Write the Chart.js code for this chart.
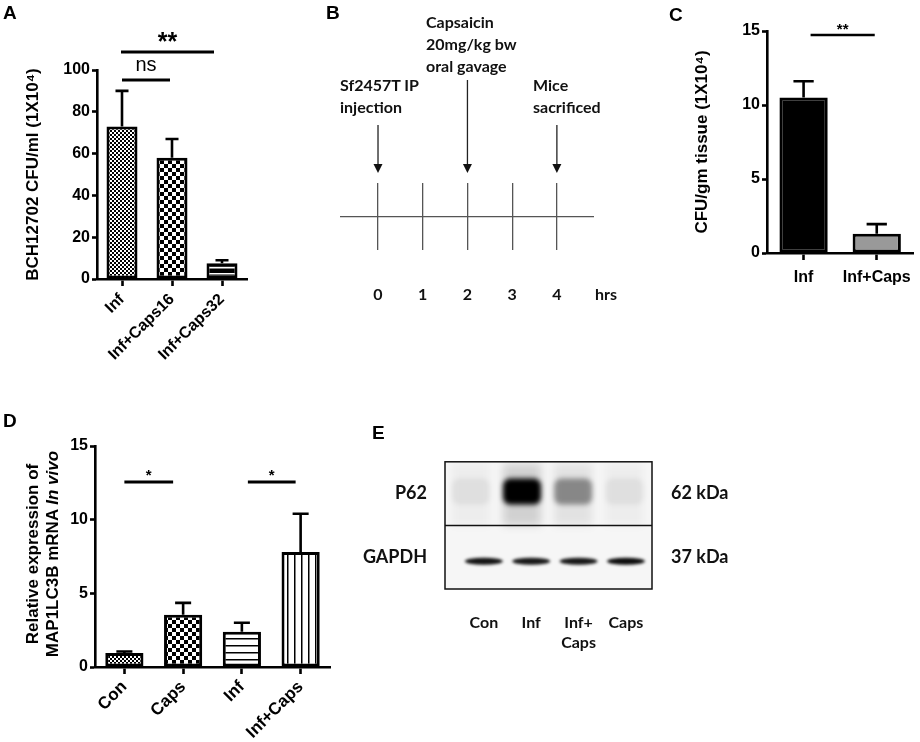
<!DOCTYPE html>
<html>
<head>
<meta charset="utf-8">
<script src="https://cdn.jsdelivr.net/npm/chart.js@4.4.0/dist/chart.umd.min.js"></script>
<style>
  body { margin: 0; background: #fff; }
  #page { position: relative; width: 920px; height: 742px; overflow: hidden; background: #fff; }
  canvas { position: absolute; }
  .letter { position: absolute; font: bold 19px "Liberation Sans", Arial, sans-serif; line-height: 19px; color: #000; }
  .note { position: absolute; font: bold 16px Lato, sans-serif; line-height: 22px; white-space: nowrap; color: #111; }
  #titleD {
    position: absolute; left: -87px; top: 534px; width: 260px; height: 40px;
    transform: rotate(-90deg); text-align: center; white-space: nowrap;
    font: bold 17px "Liberation Sans", Arial, sans-serif; line-height: 20px; color: #000;
  }
</style>
</head>
<body>
<div id="page">
  <canvas id="chartA" width="260" height="385" style="left:0;top:0"></canvas>
  <canvas id="chartB" width="300" height="330" style="left:320px;top:0"></canvas>
  <canvas id="chartC" width="280" height="300" style="left:640px;top:0"></canvas>
  <canvas id="chartD" width="340" height="342" style="left:0;top:400px"></canvas>
  <canvas id="chartE" width="400" height="230" style="left:360px;top:440px"></canvas>

  <div class="letter" style="left:3px;top:3px">A</div>
  <div class="letter" style="left:326px;top:3px">B</div>
  <div class="letter" style="left:669px;top:5px">C</div>
  <div class="letter" style="left:3px;top:411px">D</div>
  <div class="letter" style="left:372px;top:423px">E</div>

  <div class="note" style="left:340px;top:74px">Sf2457T IP<br>injection</div>
  <div class="note" style="left:426px;top:11px">Capsaicin<br>20mg/kg bw<br>oral gavage</div>
  <div class="note" style="left:533px;top:74px">Mice<br>sacrificed</div>

  <div id="titleD">Relative expression of<br>MAP1LC3B mRNA <i>In vivo</i></div>
</div>

<script>
/***** Data *****/
// Panel A - CFU counts in vitro
const labelsA = ["Inf", "Inf+Caps16", "Inf+Caps32"];
const meanA = [73, 58, 7.5];
const errA = [90, 67, 9];
const sigA = [[0, 1, "ns"], [0, 2, "**"]];

// Panel B - experiment timeline (hours)
const hours = [0, 1, 2, 3, 4];
const eventHours = [0, 2, 4];

// Panel C - CFU per gram of tissue
const labelsC = ["Inf", "Inf+Caps"];
const meanC = [10.5, 1.3];
const errC = [11.6, 1.95];
const sigC = [[0, 1, "**"]];

// Panel D - MAP1LC3B relative expression
const labelsD = ["Con", "Caps", "Inf", "Inf+Caps"];
const meanD = [0.95, 3.55, 2.4, 7.8];
const errD = [1.05, 4.35, 3.0, 10.4];
const sigD = [[0, 1, "*"], [2, 3, "*"]];

// Panel E - western blot lanes and band intensities (0..1)
const lanes = ["Con", "Inf", ["Inf+", "Caps"], "Caps"];
const blotRows = ["P62", "GAPDH"];
const blotSizes = ["62 kDa", "37 kDa"];
const p62Band = [0.06, 1, 0.4, 0.06];
const gapdhBand = [0.92, 0.9, 0.9, 0.95];

Chart.defaults.color = "#000";
Chart.defaults.font.family = '"Liberation Sans", Arial, sans-serif';

/***** Helpers *****/
// Build a repeating fill pattern for the GraphPad style bars
const makePattern = (kind) => {
  const c = document.createElement("canvas");
  const g = c.getContext("2d");
  if (kind === "fine") {
    c.width = c.height = 4;
    g.fillStyle = "#fff"; g.fillRect(0, 0, 4, 4);
    g.fillStyle = "#000"; g.fillRect(0, 0, 2, 2); g.fillRect(2, 2, 2, 2);
  } else if (kind === "coarse") {
    c.width = c.height = 8;
    g.fillStyle = "#fff"; g.fillRect(0, 0, 8, 8);
    g.fillStyle = "#000"; g.fillRect(0, 0, 4, 4); g.fillRect(4, 4, 4, 4);
  } else if (kind === "hlines") {
    c.width = 4; c.height = 7;
    g.fillStyle = "#fff"; g.fillRect(0, 0, 4, 7);
    g.fillStyle = "#000"; g.fillRect(0, 0, 4, 1.5);
  } else if (kind === "vlines") {
    c.width = 7; c.height = 4;
    g.fillStyle = "#fff"; g.fillRect(0, 0, 7, 4);
    g.fillStyle = "#000"; g.fillRect(0, 0, 1.5, 4);
  } else if (kind === "dark") {
    c.width = 4; c.height = 6;
    g.fillStyle = "#000"; g.fillRect(0, 0, 4, 6);
    g.fillStyle = "#fff"; g.fillRect(0, 3, 4, 1.5);
  }
  return g.createPattern(c, "repeat");
};

// Draws the upper error bar of every bar
const errorBarPlugin = {
  id: "errorBars",
  afterDatasetsDraw: (chart) => {
    const tops = chart.data.datasets[0].errTop;
    if (!tops) return;
    const { ctx } = chart;
    const ys = chart.scales.y;
    chart.getDatasetMeta(0).data.forEach((bar, i) => {
      const yTop = ys.getPixelForValue(tops[i]);
      const cap = bar.width * 0.42;
      ctx.save();
      ctx.strokeStyle = "#000";
      ctx.lineWidth = 2.6;
      ctx.beginPath();
      ctx.moveTo(bar.x, bar.y);
      ctx.lineTo(bar.x, yTop);
      ctx.moveTo(bar.x - cap / 2, yTop);
      ctx.lineTo(bar.x + cap / 2, yTop);
      ctx.stroke();
      ctx.restore();
    });
  },
};

// Draws the significance lines with their stars
const sigPlugin = {
  id: "sig",
  afterDraw: (chart, args, opts) => {
    if (!opts.pairs) return;
    const { ctx } = chart;
    const bars = chart.getDatasetMeta(0).data;
    opts.pairs.forEach(([a, b, text], k) => {
      const y = opts.levels[k];
      const x1 = bars[a].x + opts.insets[k][0];
      const x2 = bars[b].x - opts.insets[k][1];
      ctx.save();
      ctx.strokeStyle = "#000";
      ctx.lineWidth = opts.lineWidth;
      ctx.beginPath();
      ctx.moveTo(x1, y);
      ctx.lineTo(x2, y);
      ctx.stroke();
      ctx.fillStyle = "#000";
      ctx.font = opts.fonts[k];
      ctx.textAlign = "center";
      ctx.textBaseline = "alphabetic";
      ctx.fillText(text, (x1 + x2) / 2, y - opts.gaps[k]);
      ctx.restore();
    });
  },
};

// Common options for the three bar charts
const barOptions = (cfg) => ({
  responsive: false,
  animation: false,
  layout: { padding: cfg.padding },
  plugins: { legend: { display: false }, tooltip: { enabled: false }, sig: cfg.sig },
  scales: {
    x: {
      offset: true,
      grid: { offset: false, drawOnChartArea: false, tickLength: 7, tickColor: "#000", tickWidth: 2.6 },
      border: { display: true, color: "#000", width: 2.6 },
      ticks: {
        color: "#000",
        font: { size: cfg.xFont, weight: "bold" },
        minRotation: cfg.rot,
        maxRotation: cfg.rot,
        autoSkip: false,
        padding: cfg.xPad,
      },
      afterFit: (s) => { s.height = cfg.xHeight; },
    },
    y: {
      min: 0,
      max: cfg.max,
      ticks: { stepSize: cfg.step, color: "#000", font: { size: 16, weight: "bold" }, padding: 2 },
      grid: { drawOnChartArea: false, tickLength: 5, tickColor: "#000", tickWidth: 2.6 },
      border: { display: true, color: "#000", width: 2.6 },
      title: cfg.title
        ? { display: true, text: cfg.title, color: "#000", font: { size: 17, weight: "bold" }, padding: { top: cfg.titlePad, bottom: 0 } }
        : { display: false },
      afterFit: (s) => { s.width = cfg.yWidth; },
    },
  },
});

const barDataset = (means, errs, fills, pct) => ({
  data: means,
  errTop: errs,
  backgroundColor: fills,
  borderColor: "#000",
  borderWidth: 3,
  borderSkipped: false,
  barPercentage: pct,
  categoryPercentage: 1,
});

/***** Panel A *****/
new Chart(document.querySelector("#chartA"), {
  type: "bar",
  data: {
    labels: labelsA,
    datasets: [barDataset(meanA, errA, [makePattern("fine"), makePattern("coarse"), makePattern("dark")], 0.62)],
  },
  options: barOptions({
    padding: { left: 0, top: 70, right: 13, bottom: 0 },
    yWidth: 97, xHeight: 106, max: 100, step: 20, rot: 45, xFont: 16, xPad: 4,
    title: "BCH12702 CFU/ml (1X10\u2074)", titlePad: 23,
    sig: {
      pairs: sigA, levels: [80, 52], insets: [[0, 2], [-1, 8]], lineWidth: 3,
      fonts: ["20px 'Liberation Sans'", "bold 25px 'Liberation Sans'"], gaps: [9, 2],
    },
  }),
  plugins: [errorBarPlugin, sigPlugin],
});

/***** Panel B *****/
// Arrows for each event of the timeline plus the unit label
const timelinePlugin = {
  id: "timeline",
  afterDraw: (chart, args, opts) => {
    const { ctx, chartArea, scales: { x } } = chart;
    const tip = chartArea.top - 10;
    ctx.save();
    ctx.strokeStyle = "#222";
    ctx.fillStyle = "#111";
    ctx.lineWidth = 1.3;
    eventHours.forEach((h, i) => {
      const px = x.getPixelForValue(h);
      ctx.beginPath();
      ctx.moveTo(px, opts.starts[i]);
      ctx.lineTo(px, tip - 7);
      ctx.stroke();
      ctx.beginPath();
      ctx.moveTo(px - 4.5, tip - 9);
      ctx.lineTo(px + 4.5, tip - 9);
      ctx.lineTo(px, tip);
      ctx.closePath();
      ctx.fill();
    });
    ctx.font = "bold 16px Lato";
    ctx.textBaseline = "middle";
    ctx.fillText("hrs", chartArea.right + 1, chartArea.bottom + 35 + 9.6);
    ctx.restore();
  },
};

new Chart(document.querySelector("#chartB"), {
  type: "scatter",
  data: { datasets: [] },
  options: {
    responsive: false,
    animation: false,
    layout: { padding: { left: 20, top: 183, right: 26, bottom: 0 } },
    plugins: { legend: { display: false }, tooltip: { enabled: false }, timeline: { starts: [125, 80, 125] } },
    scales: {
      x: {
        type: "linear",
        min: -0.85,
        max: 4.83,
        afterBuildTicks: (s) => { s.ticks = hours.map((v) => ({ value: v })); },
        grid: { color: "#555", lineWidth: 1.3, drawTicks: false },
        border: { display: false },
        ticks: { padding: 35, color: "#111", font: { family: "Lato", size: 16, weight: "bold" } },
        afterFit: (s) => { s.height = 80; },
      },
      y: {
        min: -1,
        max: 1,
        afterBuildTicks: (s) => { s.ticks = [{ value: 0 }]; },
        grid: { color: "#555", lineWidth: 1.3, drawTicks: false },
        border: { display: false },
        ticks: { display: false },
        afterFit: (s) => { s.width = 0; },
      },
    },
  },
  plugins: [timelinePlugin],
});

/***** Panel C *****/
new Chart(document.querySelector("#chartC"), {
  type: "bar",
  data: {
    labels: labelsC,
    datasets: [barDataset(meanC, errC, ["#000", "#999"], 0.66)],
  },
  options: barOptions({
    padding: { left: 0, top: 31, right: 5, bottom: 0 },
    yWidth: 127, xHeight: 47, max: 15, step: 5, rot: 0, xFont: 16, xPad: 8,
    title: "CFU/gm tissue (1X10\u2074)", titlePad: 52,
    sig: {
      pairs: sigC, levels: [35], insets: [[7, 2]], lineWidth: 2.5,
      fonts: ["bold 15px 'Liberation Sans'"], gaps: [1],
    },
  }),
  plugins: [errorBarPlugin, sigPlugin],
});

/***** Panel D *****/
new Chart(document.querySelector("#chartD"), {
  type: "bar",
  data: {
    labels: labelsD,
    datasets: [barDataset(meanD, errD, [makePattern("fine"), makePattern("coarse"), makePattern("hlines"), makePattern("vlines")], 0.65)],
  },
  options: barOptions({
    padding: { left: 0, top: 46, right: 10, bottom: 0 },
    yWidth: 95, xHeight: 75, max: 15, step: 5, rot: 45, xFont: 17, xPad: 3,
    title: null,
    sig: {
      pairs: sigD, levels: [82, 82], insets: [[0, 10], [6, 5]], lineWidth: 3,
      fonts: ["bold 15px 'Liberation Sans'", "bold 15px 'Liberation Sans'"], gaps: [2, 2],
    },
  }),
  plugins: [errorBarPlugin, sigPlugin],
});

/***** Panel E *****/
// Draws the blot background, the bands and the frame
const blotPlugin = {
  id: "blot",
  beforeDatasetsDraw: (chart) => {
    const { ctx, chartArea: a, scales: { x, y } } = chart;
    const mid = y.getPixelForValue(1);
    ctx.save();
    ctx.fillStyle = "#f6f6f6";
    ctx.fillRect(a.left, a.top, a.width, a.height);
    ctx.beginPath();
    ctx.rect(a.left, a.top, a.width, a.height);
    ctx.clip();

    // P62 row - lanes drift slightly left in the upper gel
    p62Band.forEach((v, i) => {
      const cx = x.getPixelForValue(i) - 13 + 3.8 * i;
      const cy = y.getPixelForValue(0.5) - 2;
      // faint lane column and halo
      ctx.filter = "blur(4px)";
      ctx.fillStyle = `rgba(0,0,0,${0.03 + v * 0.12})`;
      ctx.fillRect(cx - 19, a.top + 2, 38, mid - a.top - 2);
      // band core
      ctx.filter = "blur(2.5px)";
      ctx.fillStyle = `rgba(0,0,0,${v})`;
      ctx.beginPath();
      ctx.roundRect(cx - 19, cy - 13, 38, 26, 7);
      ctx.fill();
    });

    // GAPDH row
    gapdhBand.forEach((v, i) => {
      const cx = x.getPixelForValue(i);
      const cy = y.getPixelForValue(1.5) + 4;
      ctx.filter = "blur(1.5px)";
      ctx.fillStyle = `rgba(0,0,0,${v})`;
      ctx.beginPath();
      ctx.ellipse(cx, cy, 19, 3.5, 0, 0, 2 * Math.PI);
      ctx.fill();
    });
    ctx.filter = "none";
    ctx.restore();

    ctx.save();
    ctx.strokeStyle = "#111";
    ctx.lineWidth = 1.5;
    ctx.strokeRect(a.left, a.top, a.width, a.height);
    ctx.beginPath();
    ctx.moveTo(a.left, mid);
    ctx.lineTo(a.right, mid);
    ctx.stroke();
    ctx.restore();
  },
};

const blotFont = { family: "Lato", size: 18, weight: "bold" };

new Chart(document.querySelector("#chartE"), {
  type: "scatter",
  data: { datasets: [] },
  options: {
    responsive: false,
    animation: false,
    layout: { padding: { left: 0, top: 12, right: 0, bottom: 0 } },
    plugins: { legend: { display: false }, tooltip: { enabled: false } },
    scales: {
      x: {
        type: "linear",
        min: -0.82,
        max: 3.55,
        afterBuildTicks: (s) => { s.ticks = lanes.map((l, i) => ({ value: i })); },
        grid: { display: false },
        border: { display: false },
        ticks: {
          padding: 15,
          color: "#111",
          font: { family: "Lato", size: 16, weight: "bold", lineHeight: 1.3 },
          callback: (v) => lanes[v],
        },
        afterFit: (s) => { s.height = 81; },
      },
      y: {
        type: "linear",
        position: "left",
        reverse: true,
        min: 0,
        max: 2,
        afterBuildTicks: (s) => { s.ticks = blotRows.map((r, i) => ({ value: i + 0.5 })); },
        grid: { display: false },
        border: { display: false },
        ticks: { padding: 10, color: "#111", font: blotFont, callback: (v) => blotRows[Math.floor(v)] },
        afterFit: (s) => { s.width = 85; },
      },
      y2: {
        type: "linear",
        position: "right",
        reverse: true,
        min: 0,
        max: 2,
        afterBuildTicks: (s) => { s.ticks = blotSizes.map((r, i) => ({ value: i + 0.5 })); },
        grid: { display: false },
        border: { display: false },
        ticks: { padding: 11, color: "#111", font: blotFont, callback: (v) => blotSizes[Math.floor(v)] },
        afterFit: (s) => { s.width = 108; },
      },
    },
  },
  plugins: [blotPlugin],
});
</script>
</body>
</html>
